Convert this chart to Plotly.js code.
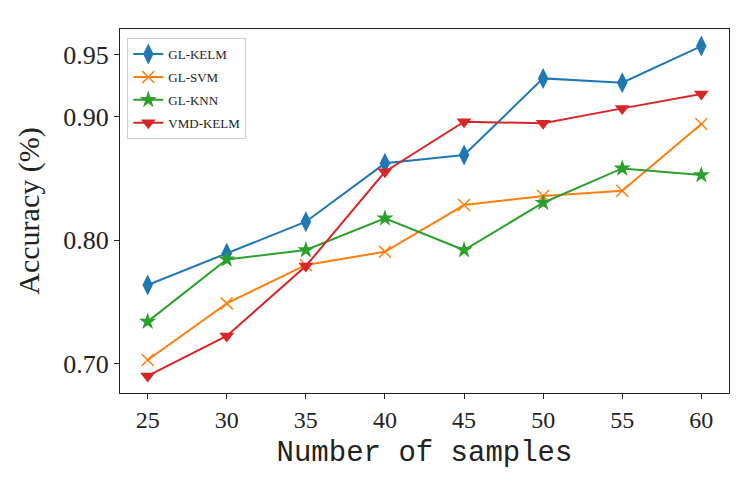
<!DOCTYPE html>
<html><head><meta charset="utf-8">
<script src="https://cdn.plot.ly/plotly-3.0.1.min.js"></script>
<style>html,body{margin:0;padding:0;background:#fff;}</style>
</head><body>
<div id="chart" style="width:751px;height:481px;"></div>
<script>
const samples = [25, 30, 35, 40, 45, 50, 55, 60];
const glKelm  = [0.7636, 0.7892, 0.8148, 0.8621, 0.8688, 0.9309, 0.9274, 0.9571];
const glSvm   = [0.7028, 0.7487, 0.7798, 0.7905, 0.8283, 0.8356, 0.8399, 0.8939];
const glKnn   = [0.7339, 0.7843, 0.7919, 0.8176, 0.7919, 0.8302, 0.8580, 0.8526];
const vmdKelm = [0.6899, 0.7223, 0.7789, 0.8553, 0.8958, 0.8945, 0.9066, 0.9182];
const yTickVals = [0.70, 0.80, 0.90, 0.95];
const yTickText = ['0.70', '0.80', '0.90', '0.95'];
const seriesNames = ['GL-KELM', 'GL-SVM', 'GL-KNN', 'VMD-KELM'];

const serif = 'Liberation Serif, Times New Roman, serif';
const mono = 'Liberation Mono, Courier New, monospace';

function tr(y, name, color, symbol, size, mline, grp) {
  return {
    x: samples, y: y, name: name, type: 'scatter', mode: 'lines+markers',
    legendgroup: grp,
    line: {color: color, width: 2},
    marker: {color: color, symbol: symbol, size: size,
             line: mline ? {color: color, width: 1.5} : {width: 0}}
  };
}
const data = [
  tr(glKelm, seriesNames[0], '#1f77b4', 'diamond-tall', 15, false, 'a'),
  tr(glSvm, seriesNames[1], '#ff7f0e', 'x-thin-open', 12, true, 'b'),
  tr(glKnn, seriesNames[2], '#2ca02c', 'star', 13, false, 'c'),
  tr(vmdKelm, seriesNames[3], '#d62728', 'triangle-down', 13, false, 'd')
];
const layout = {
  width: 751, height: 481,
  margin: {l: 120, r: 22, t: 29, b: 88},
  paper_bgcolor: '#fff', plot_bgcolor: '#fff',
  showlegend: true,
  legend: {x: 0.012, y: 0.975, xanchor: 'left', yanchor: 'top',
           bgcolor: 'rgba(255,255,255,0.8)', bordercolor: '#cccccc', borderwidth: 1,
           font: {family: serif, size: 13, color: '#222'}, tracegroupgap: 3},
  xaxis: {
    range: [23.25, 61.75], tickvals: samples, ticks: 'outside', ticklen: 5,
    tickcolor: '#222', showgrid: false, zeroline: false,
    showline: true, linecolor: '#222', linewidth: 1, mirror: true,
    tickfont: {family: serif, size: 24, color: '#222'},
    title: {text: 'Number of samples', font: {family: mono, size: 29, color: '#222'}, standoff: 8}
  },
  yaxis: {
    range: [0.6761, 0.9709], tickvals: yTickVals, ticktext: yTickText,
    ticks: 'outside', ticklen: 5, tickcolor: '#222', showgrid: false, zeroline: false,
    showline: true, linecolor: '#222', linewidth: 1, mirror: true,
    tickfont: {family: serif, size: 26, color: '#222'},
    title: {text: 'Accuracy (%)', font: {family: serif, size: 30, color: '#222'}, standoff: 14}
  }
};
Plotly.newPlot('chart', data, layout, {displayModeBar: false, staticPlot: true});
</script>
</body></html>
